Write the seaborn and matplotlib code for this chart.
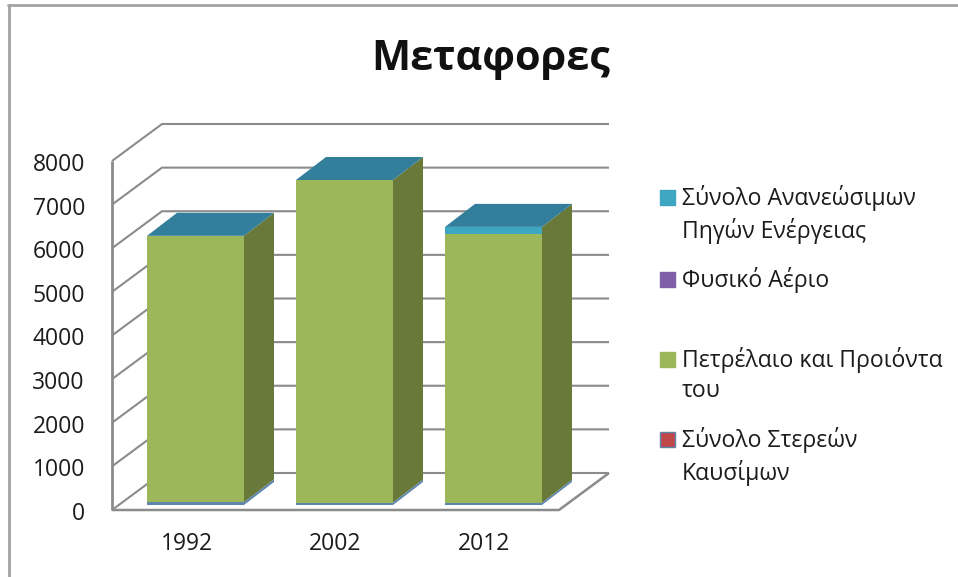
import numpy as np
import matplotlib
matplotlib.use("Agg")
import matplotlib.pyplot as plt
from matplotlib.lines import Line2D
from matplotlib.patches import Polygon, Rectangle
from matplotlib.transforms import ScaledTranslation
import seaborn as sns

years = ["1992", "2002", "2012"]
solid_fuels = [60, 55, 50]
petroleum = [6110, 7395, 6165]
natural_gas = [0, 0, 0]
renewables = [0, 0, 160]
y_ticks = [0, 1000, 2000, 3000, 4000, 5000, 6000, 7000, 8000]
title = "Μεταφορες"
legend_labels = ["Σύνολο Ανανεώσιμων\nΠηγών Ενέργειας", "Φυσικό Αέριο",
                 "Πετρέλαιο και Προιόντα\nτου", "Σύνολο Στερεών\nΚαυσίμων"]

C_RENEW, C_GAS, C_OIL, C_SOLID = "#3fa6c2", "#7f5fa8", "#9bb75a", "#5c86ab"
C_TOP, C_SIDE, C_GRID, C_TEXT = "#337f9b", "#68793a", "#8b8b8b", "#1c1c1c"

sns.set_theme(style="white")
plt.rcParams["font.family"] = ["Open Sans", "DejaVu Sans"]

W, H = 958, 577
fig = plt.figure(figsize=(W / 100, H / 100), dpi=100, facecolor="white")

# Pixel geometry of the axes box
PX_L, PX_R, PX_B, PX_T = 112, 612, 510, 120
PX_PER_CAT, PX_PER_UNIT = 149.0, 349.0 / 8000
ax = fig.add_axes([PX_L / W, 1 - PX_B / H, (PX_R - PX_L) / W, (PX_B - PX_T) / H])

def dx(px):
    return px / PX_PER_CAT

def dy(px):
    return px / PX_PER_UNIT

BAR_W = 97 / PX_PER_CAT
BASE = dy(5)
stack = [(solid_fuels, C_SOLID), (petroleum, C_OIL), (natural_gas, C_GAS), (renewables, C_RENEW)]
bottoms = np.full(3, BASE, dtype=float)
seams = [bottoms.copy()]
for values, colour in stack:
    sns.barplot(x=years, y=values, bottom=bottoms, color=colour, saturation=1,
                width=BAR_W, ax=ax, zorder=3, linewidth=0)
    bottoms = bottoms + np.array(values, dtype=float)
    seams.append(bottoms.copy())

x_left = -195.5 / PX_PER_CAT + PX_L / PX_PER_CAT
x_right = x_left + (PX_R - PX_L) / PX_PER_CAT
x_front_end = x_left + dx(447)
ax.set_xlim(x_left, x_right)
ax.set_ylim(0, dy(PX_B - PX_T))

# Side and top faces of each column, derived from the stacked values
bar_dx, bar_dy = dx(30), dy(23)
for i in range(len(years)):
    l, r = i - BAR_W / 2, i + BAR_W / 2
    base, first, top = seams[0][i], seams[1][i], seams[-1][i]
    ax.add_patch(Polygon([(r, first), (r + bar_dx, first + bar_dy), (r + bar_dx, top + bar_dy), (r, top)],
                         closed=True, fc=C_SIDE, ec="none", zorder=3))
    ax.add_patch(Polygon([(r, base), (r + bar_dx, base + bar_dy), (r + bar_dx, first + bar_dy), (r, first)],
                         closed=True, fc=C_SOLID, ec="none", zorder=3))
    ax.add_patch(Polygon([(l, top), (r, top), (r + bar_dx, top + bar_dy), (l + bar_dx, top + bar_dy)],
                         closed=True, fc=C_TOP, ec="none", zorder=3))

# Back wall, left wall and floor
wall_dx, wall_dy = dx(50), dy(37)
grid_kw = dict(color=C_GRID, lw=1.5, zorder=1, solid_capstyle="butt", clip_on=False)
for v in y_ticks:
    ax.plot([x_left, x_left + wall_dx, x_front_end + wall_dx], [v, v + wall_dy, v + wall_dy], **grid_kw)
ax.plot([x_left, x_front_end, x_front_end + wall_dx], [0, 0, wall_dy], **{**grid_kw, "lw": 1.8, "zorder": 4})
ax.plot([x_left, x_left], [0, y_ticks[-1]], **{**grid_kw, "lw": 2.0, "zorder": 4})

sns.despine(ax=ax, left=True, bottom=True)
ax.set_yticks(y_ticks)
ax.set_xticks([i - dx(9) for i in range(len(years))])
ax.set_xticklabels(years)
ax.tick_params(axis="y", length=0, pad=19.5, labelsize=16.5, labelcolor=C_TEXT)
ax.tick_params(axis="x", length=0, pad=16, labelsize=16.5, labelcolor=C_TEXT)
shift = ScaledTranslation(0, -1 / 100, fig.dpi_scale_trans)
for lab in ax.get_yticklabels():
    lab.set_transform(lab.get_transform() + shift)
ax.set_xlabel("")
ax.set_ylabel("")
ax.patch.set_alpha(0)

fig.text(491 / W, 1 - 60 / H, title, ha="center", va="center", fontsize=29.8,
         fontweight="bold", color="#111111")

# Legend entries with the original's uneven spacing
swatch_y = [197, 279, 359, 439]
swatches = [C_RENEW, C_GAS, C_OIL, "#c0484a"]
edges = [None, None, None, C_SOLID]
for label, y, c, e in zip(legend_labels, swatch_y, swatches, edges):
    fig.add_artist(Rectangle((660 / W, 1 - (y + 7.5) / H), 15 / W, 15 / H, transform=fig.transFigure,
                             fc=c, ec=e if e else c, lw=1))
    fig.text(682 / W, 1 - (y - 12) / H, label, ha="left", va="top", fontsize=16.6,
             color=C_TEXT, linespacing=1.36)

# Outer frame (top and left edges of the chart area)
frame_kw = dict(transform=fig.transFigure, color="#a3a3a3", lw=2)
fig.add_artist(Line2D([8 / W, 1], [1 - 5 / H, 1 - 5 / H], **frame_kw))
fig.add_artist(Line2D([9 / W, 9 / W], [0, 1 - 5 / H], **frame_kw))

fig.savefig("out.png", dpi=100, facecolor="white")
